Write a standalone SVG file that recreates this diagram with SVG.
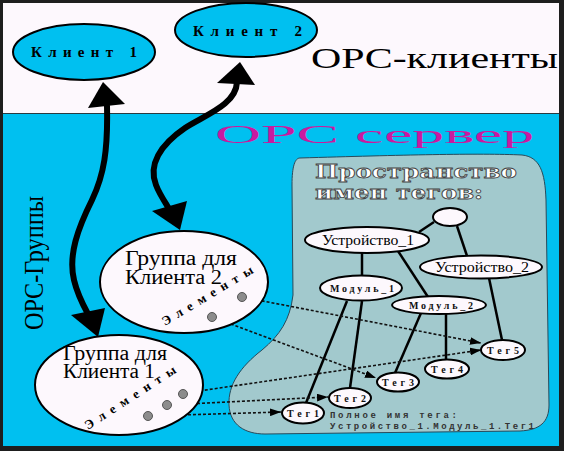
<svg xmlns="http://www.w3.org/2000/svg" width="564" height="451" viewBox="0 0 564 451">
<defs>
<style>
.serif{font-family:"Liberation Serif","Times New Roman",serif;}
.cl{fill:#00c0f0;stroke:#000;stroke-width:2;}
.grp{fill:#fdf8fd;stroke:#000;stroke-width:2;}
.nd{fill:#fdf8fd;stroke:#000;stroke-width:2;}
.tree{stroke:#000;stroke-width:2.5;fill:none;}
.big{stroke:#000;stroke-width:6;fill:none;stroke-linecap:round;}
.dot{stroke:#111;stroke-width:1.6;stroke-dasharray:3,2;fill:none;}
.pt{fill:#8c8c8c;stroke:#555;stroke-width:1;}
.sm{font-family:"Liberation Serif","Times New Roman",serif;font-size:10px;font-weight:bold;fill:#111;}
.lbl{font-family:"Liberation Serif","Times New Roman",serif;font-size:14px;fill:#000;}
.cll{font-family:"Liberation Serif","Times New Roman",serif;font-size:15px;font-weight:bold;fill:#000;}
.el{font-family:"Liberation Serif","Times New Roman",serif;font-size:13px;font-weight:bold;fill:#000;}
.cap{font-family:"Liberation Mono","Courier New",monospace;font-size:9px;font-weight:bold;fill:#333;}
</style>
<marker id="ah" viewBox="0 0 10 7" refX="10" refY="3.5" markerWidth="11" markerHeight="8" markerUnits="userSpaceOnUse" orient="auto">
<path d="M0,0 L10,3.5 L0,7 Z" fill="#000"/>
</marker>
</defs>

<!-- frame and backgrounds -->
<rect x="0" y="0" width="564" height="451" fill="#1e1e1e"/>
<rect x="3" y="3" width="556" height="110" fill="#fdf8fd"/>
<rect x="3" y="113" width="556" height="333" fill="#00c0f0"/>
<line x1="3" y1="113.5" x2="559" y2="113.5" stroke="#2a3a40" stroke-width="1"/>

<text class="serif" x="311" y="68" font-size="30" textLength="247" lengthAdjust="spacingAndGlyphs" fill="#000">OPC-клиенты</text>
<text class="serif" x="215" y="143" font-size="26" textLength="319" lengthAdjust="spacingAndGlyphs" fill="#c81aa0">OPC сервер</text>
<text class="serif" transform="translate(43,330) rotate(-90)" x="0" y="0" font-size="27" textLength="134" lengthAdjust="spacingAndGlyphs" fill="#000">OPC-Группы</text>

<!-- tag namespace area -->
<g id="namespace">
<path d="M300,158 C400,155 480,153 522,155 C540,157 545,172 546,200 L549,405 C549,422 540,430 520,431 L265,434 C245,434 230,425 229,405 C228,385 240,367 262,350 C280,335 290,320 293,295 L292,185 C292,166 295,158 300,158 Z" fill="#a2c9cd" stroke="#2a4a5a" stroke-width="1"/>
<text x="315" y="178" font-family="'DejaVu Serif',serif" font-weight="bold" font-size="19" textLength="202" lengthAdjust="spacingAndGlyphs" fill="#fff" stroke="#444" stroke-width="0.8">Пространство</text>
<text x="315" y="199" font-family="'DejaVu Serif',serif" font-weight="bold" font-size="19" textLength="168" lengthAdjust="spacingAndGlyphs" fill="#fff" stroke="#444" stroke-width="0.8">имен тегов:</text>
<text class="cap" x="330" y="418" textLength="127" lengthAdjust="spacing">Полное имя тега:</text>
<text class="cap" x="330" y="429" textLength="204" lengthAdjust="spacing">Устройство_1.Модуль_1.Тег1</text>
</g>

<!-- connectors -->
<g id="connectors">
<line class="tree" x1="434" y1="222" x2="419" y2="232"/>
<line class="tree" x1="457" y1="226" x2="467" y2="256"/>
<line class="tree" x1="362" y1="253" x2="362" y2="275"/>
<line class="tree" x1="398" y1="251" x2="428" y2="297"/>
<line class="tree" x1="347" y1="301" x2="306" y2="403"/>
<line class="tree" x1="362" y1="301" x2="350" y2="388"/>
<line class="tree" x1="421" y1="313" x2="395" y2="373"/>
<line class="tree" x1="446" y1="314" x2="446" y2="360" stroke-width="3.5"/>
<line class="tree" x1="489" y1="278" x2="502" y2="340"/>

<line class="dot" x1="242" y1="297" x2="481" y2="343" marker-end="url(#ah)"/>
<line class="dot" x1="212" y1="317" x2="376" y2="378" marker-end="url(#ah)"/>
<line class="dot" x1="185" y1="393" x2="481" y2="350" marker-end="url(#ah)"/>
<line class="dot" x1="167" y1="405" x2="328" y2="397" marker-end="url(#ah)"/>
<line class="dot" x1="148" y1="416" x2="281" y2="412" marker-end="url(#ah)"/>

<path class="big" d="M107,106 C108,150 104,175 92,200 C78,228 68,255 74,280 C77,293 82,303 88,314"/>
<polygon points="103,82 88,108 125,104" fill="#000"/>
<polygon points="98,337 71,315 105,308" fill="#000"/>
<path class="big" d="M237,82 C236,105 205,115 185,128 C160,145 148,165 156,185 C159,193 163,199 168,207"/>
<polygon points="240,62 217,83 255,85" fill="#000"/>
<polygon points="180,230 152,211 187,201" fill="#000"/>
</g>

<!-- clients -->
<g id="client1">
<ellipse class="cl" cx="84" cy="52" rx="71" ry="28"/>
<text class="cll" x="31" y="57" textLength="106" lengthAdjust="spacing">Клиент 1</text>
</g>
<g id="client2">
<ellipse class="cl" cx="246" cy="30" rx="71" ry="27"/>
<text class="cll" x="193" y="36" textLength="109" lengthAdjust="spacing">Клиент 2</text>
</g>

<!-- groups -->
<g id="group2">
<ellipse class="grp" cx="184" cy="282" rx="84" ry="51"/>
<text class="serif" x="125" y="265" font-size="20" textLength="112" lengthAdjust="spacingAndGlyphs">Группа для</text>
<text class="serif" x="125" y="284" font-size="20" textLength="97" lengthAdjust="spacingAndGlyphs">Клиента 2</text>
<text class="el" transform="translate(165,326) rotate(-31)" x="0" y="0" textLength="104" lengthAdjust="spacing">Элементы</text>
<circle class="pt" cx="242" cy="297" r="4.5"/>
<circle class="pt" cx="212" cy="317" r="4.5"/>
</g>
<g id="group1">
<ellipse class="grp" cx="119" cy="385" rx="84" ry="50"/>
<text class="serif" x="63" y="360" font-size="20" textLength="104" lengthAdjust="spacingAndGlyphs">Группа для</text>
<text class="serif" x="63" y="378" font-size="20" textLength="92" lengthAdjust="spacingAndGlyphs">Клиента 1</text>
<text class="el" transform="translate(88,430) rotate(-33)" x="0" y="0" textLength="106" lengthAdjust="spacing">Элементы</text>
<circle class="pt" cx="183" cy="394" r="4.5"/>
<circle class="pt" cx="167" cy="405" r="4.5"/>
<circle class="pt" cx="148" cy="416" r="4.5"/>
</g>

<!-- namespace nodes -->
<g id="root"><ellipse class="nd" cx="450" cy="217" rx="17" ry="9"/></g>
<g id="dev1"><ellipse class="nd" cx="367" cy="240" rx="62" ry="13"/>
<text class="lbl" x="368" y="245" text-anchor="middle" textLength="92" lengthAdjust="spacingAndGlyphs">Устройство_1</text></g>
<g id="dev2"><ellipse class="nd" cx="481" cy="267" rx="61" ry="11.5"/>
<text class="lbl" x="482" y="272" text-anchor="middle" textLength="94" lengthAdjust="spacingAndGlyphs">Устройство_2</text></g>
<g id="mod1"><ellipse class="nd" cx="361" cy="288" rx="41" ry="12.5"/>
<text class="sm" x="362" y="292" text-anchor="middle" textLength="64" lengthAdjust="spacing">Модуль_1</text></g>
<g id="mod2"><ellipse class="nd" cx="439" cy="305" rx="47" ry="9"/>
<text class="sm" x="441" y="309" text-anchor="middle" textLength="64" lengthAdjust="spacing">Модуль_2</text></g>
<g id="tag1"><ellipse class="nd" cx="303" cy="413" rx="21" ry="10.5"/>
<text class="sm" x="303" y="417" text-anchor="middle" textLength="32" lengthAdjust="spacing">Тег1</text></g>
<g id="tag2"><ellipse class="nd" cx="350" cy="398" rx="21" ry="10"/>
<text class="sm" x="350" y="402" text-anchor="middle" textLength="32" lengthAdjust="spacing">Тег2</text></g>
<g id="tag3"><ellipse class="nd" cx="398" cy="382" rx="21" ry="9.5"/>
<text class="sm" x="398" y="386" text-anchor="middle" textLength="32" lengthAdjust="spacing">Тег3</text></g>
<g id="tag4"><ellipse class="nd" cx="447" cy="369" rx="22" ry="9.5"/>
<text class="sm" x="447" y="373" text-anchor="middle" textLength="32" lengthAdjust="spacing">Тег4</text></g>
<g id="tag5"><ellipse class="nd" cx="503" cy="350" rx="22" ry="10"/>
<text class="sm" x="503" y="354" text-anchor="middle" textLength="32" lengthAdjust="spacing">Тег5</text></g>
</svg>
